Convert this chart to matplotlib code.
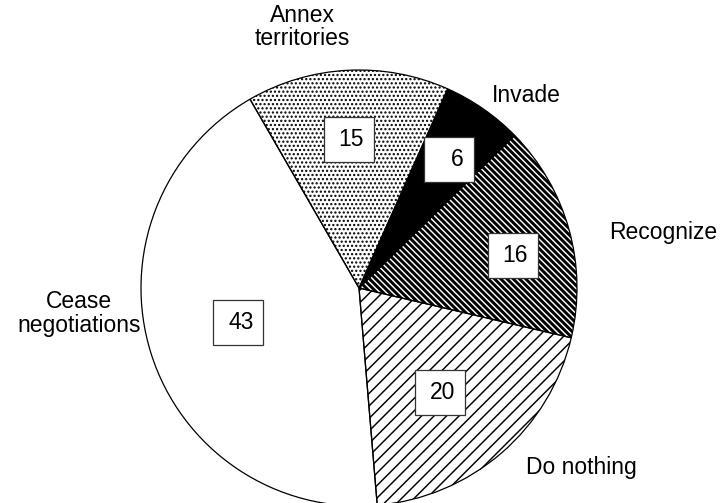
import numpy as np
import matplotlib
matplotlib.use("Agg")
import matplotlib.pyplot as plt
from matplotlib.patches import Rectangle

plt.rcParams['font.family'] = ['Liberation Sans', 'DejaVu Sans']
plt.rcParams['hatch.linewidth'] = 0.7

# data, counterclockwise from the bottom
labels = ['Do nothing', 'Recognize', 'Invade', 'Annex\nterritories', 'Cease\nnegotiations']
values = [20, 16, 6, 15, 43]

# look of each slice
faces = ['white', 'black', 'black', 'white', 'white']
hatch_cols = ['black', 'white', 'black', 'black', 'black']
hatches = ['////', '\\' * 8, '', '......', '']

# label placement (angle shift from slice middle, radius)
box_shift = [-2.9, -3.5, -0.1, 0.8, -1.5]
box_r = [0.605, 0.722, 0.72, 0.683, 0.575]
lab_shift = [10.2, -5.2, -6.2, 9.2, -12.2]
lab_r = [1.31, 1.42, 1.167, 1.225, 1.29]

DPI = 150
W, H = 720, 503
R = 218.0  # pie radius in px
cx, cy = 359, H - 288

fig = plt.figure(figsize=(W / DPI, H / DPI), dpi=DPI)
ax = fig.add_axes([0, 0, 1, 1])

start = -85.2
wedges, _ = ax.pie(values, startangle=start, counterclock=True,
                   wedgeprops=dict(linewidth=0))
for w, fc, hc, h in zip(wedges, faces, hatch_cols, hatches):
    w.set_facecolor(fc)
    w.set_edgecolor(hc)
    w.set_hatch(h)

# outlines
ax.pie(values, startangle=start, counterclock=True,
       wedgeprops=dict(fill=False, edgecolor='black', linewidth=0.6))

ax.set_xlim(-cx / R, (W - cx) / R)
ax.set_ylim(-cy / R, (H - cy) / R)
ax.set_aspect('equal')
ax.axis('off')

bw, bh = 50 / R, 45 / R
for w, v, lab, bs, br, ls, lr in zip(wedges, values, labels, box_shift, box_r, lab_shift, lab_r):
    mid = (w.theta1 + w.theta2) / 2
    a = np.deg2rad(mid + bs)
    x, y = br * np.cos(a), br * np.sin(a)
    ax.add_patch(Rectangle((x - bw / 2, y - bh / 2), bw, bh, facecolor='white',
                           edgecolor='#333333', linewidth=0.6, zorder=3))
    ax.text(x + bw / 2 - 10 / R, y, str(v), ha='right', va='center',
            fontsize=11, zorder=4)
    a = np.deg2rad(mid + ls)
    ax.text(lr * np.cos(a), lr * np.sin(a), lab, ha='center', va='center',
            fontsize=11, linespacing=1.05)

fig.savefig('out.png', dpi=DPI)
